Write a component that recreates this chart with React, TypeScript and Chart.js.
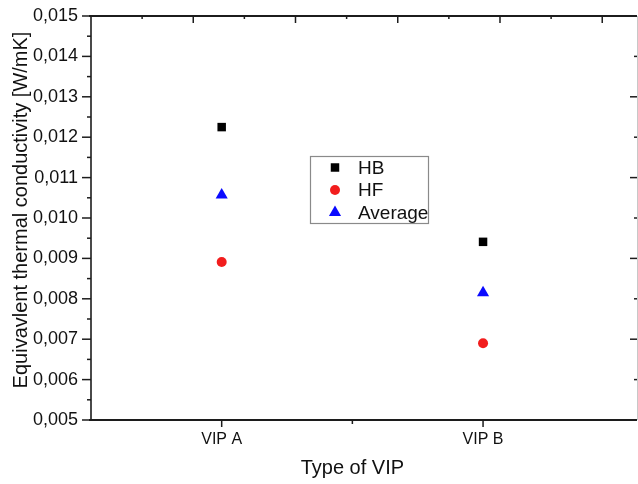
import { useEffect, useRef } from 'react';
import { Chart, registerables } from 'chart.js';
import { drawPoint } from 'chart.js/helpers';

Chart.register(...registerables);

const categories = ['VIP A', 'VIP B'];
const categoryPositions = [1, 2];
const hbValues = [0.01225, 0.00941];
const hfValues = [0.00891, 0.0069];
const averageValues = [0.01057, 0.00815];
const yTickValues = [0.005, 0.006, 0.007, 0.008, 0.009, 0.01, 0.011, 0.012, 0.013, 0.014, 0.015];
const topTickValues = [1, 2, 3, 4, 5, 6, 7, 8, 9, 10];
const xTitle = 'Type of VIP';
const yTitle = 'Equivavlent thermal conductivity [W/mK]';

const FONT = "'Liberation Sans', Arial, Helvetica, sans-serif";
const AXIS_COLOR = '#1c1c1c';

const seriesStyles = [
  { label: 'HB', values: hbValues, color: '#000000', pointStyle: 'rect', radius: 6 },
  { label: 'HF', values: hfValues, color: '#f21d1d', pointStyle: 'circle', radius: 5 },
  { label: 'Average', values: averageValues, color: '#0a0aff', pointStyle: 'triangle', radius: 7 },
];

const zeroPadding = (scale: any) => {
  scale.paddingTop = 0;
  scale.paddingBottom = 0;
  scale.paddingLeft = 0;
  scale.paddingRight = 0;
};

const framePlugin = {
  id: 'frame',
  beforeDatasetsDraw(chart: any) {
    const { ctx, chartArea, scales } = chart;
    const { left, right, top, bottom } = chartArea;
    const x = scales.x;
    const y = scales.y;
    const xt = scales.xTop;
    const seg = (x1: number, y1: number, x2: number, y2: number) => {
      ctx.beginPath();
      ctx.moveTo(x1, y1);
      ctx.lineTo(x2, y2);
      ctx.stroke();
    };
    ctx.save();
    // right border (light)
    ctx.strokeStyle = '#c8c8c8';
    ctx.lineWidth = 1;
    seg(right + 0.5, top, right + 0.5, bottom);
    // right inward ticks
    ctx.strokeStyle = AXIS_COLOR;
    ctx.lineWidth = 1.5;
    yTickValues.forEach((v, i) => {
      if (i === 0 || i === yTickValues.length - 1) return;
      const py = y.getPixelForValue(v);
      const len = i % 2 === 0 ? 7 : 3;
      seg(right, py, right - len, py);
    });
    // top axis
    ctx.lineWidth = 2;
    seg(left - 2, top, right, top);
    ctx.lineWidth = 1.5;
    topTickValues.forEach((v) => {
      const px = xt.getPixelForValue(v);
      const len = v % 2 === 0 ? 7 : 3;
      seg(px, top, px, top + len);
    });
    // bottom axis
    ctx.lineWidth = 2;
    seg(left - 2, bottom, right, bottom);
    ctx.lineWidth = 1.5;
    categoryPositions.forEach((v, i) => {
      const px = x.getPixelForValue(v);
      seg(px, bottom, px, bottom + 7);
      if (i < categoryPositions.length - 1) {
        const mx = x.getPixelForValue((v + categoryPositions[i + 1]) / 2);
        seg(mx, bottom, mx, bottom + 4);
      }
    });
    // left axis
    ctx.lineWidth = 1.6;
    seg(left, top, left, bottom);
    ctx.lineWidth = 1.5;
    yTickValues.forEach((v, i) => {
      const py = y.getPixelForValue(v);
      seg(left, py, left - 9, py);
      if (i < yTickValues.length - 1) {
        const my = y.getPixelForValue((v + yTickValues[i + 1]) / 2);
        seg(left, my, left - 4, my);
      }
    });
    // axis titles
    ctx.fillStyle = '#111';
    ctx.font = `20px ${FONT}`;
    ctx.textAlign = 'center';
    ctx.textBaseline = 'middle';
    const mid = x.getPixelForValue((categoryPositions[0] + categoryPositions[categoryPositions.length - 1]) / 2);
    ctx.fillText(xTitle, mid, 468);
    ctx.save();
    ctx.translate(21, (top + bottom) / 2 - 8);
    ctx.rotate(-Math.PI / 2);
    ctx.fillText(yTitle, 0, 0);
    ctx.restore();
    ctx.restore();
  },
  afterDraw(chart: any) {
    const { ctx } = chart;
    ctx.save();
    ctx.strokeStyle = '#8a8a8a';
    ctx.lineWidth = 1.2;
    ctx.strokeRect(310.5, 156.5, 118, 67);
    ctx.font = `19px ${FONT}`;
    ctx.textAlign = 'left';
    ctx.textBaseline = 'middle';
    seriesStyles.forEach((s, i) => {
      const cy = 167.5 + i * 22.5;
      ctx.fillStyle = s.color;
      drawPoint(ctx, { pointStyle: s.pointStyle as any, radius: s.radius, rotation: 0, borderWidth: 0 } as any, 335, cy);
      ctx.fillStyle = '#111';
      ctx.fillText(s.label, 358, cy + 1);
    });
    ctx.restore();
  },
};

export default function App() {
  const ref = useRef<HTMLCanvasElement | null>(null);
  useEffect(() => {
    document.body.style.margin = '0';
    if (!ref.current) return;
    const chart = new Chart(ref.current, {
      type: 'scatter',
      data: {
        datasets: seriesStyles.map((s) => ({
          label: s.label,
          data: s.values.map((v, i) => ({ x: categoryPositions[i], y: v })),
          pointStyle: s.pointStyle as any,
          pointRadius: s.radius,
          pointHoverRadius: s.radius,
          pointBackgroundColor: s.color,
          pointBorderWidth: 0,
          showLine: false,
        })),
      },
      options: {
        animation: false,
        responsive: false,
        layout: { autoPadding: false, padding: { top: 0, right: 1, bottom: 0, left: 0 } },
        plugins: { legend: { display: false }, tooltip: { enabled: false } },
        scales: {
          x: {
            type: 'linear',
            position: 'bottom',
            min: 0.5,
            max: 2.589,
            afterBuildTicks: (scale: any) => {
              scale.ticks = categoryPositions.map((v) => ({ value: v }));
            },
            afterFit: (scale: any) => {
              scale.height = 64;
              zeroPadding(scale);
            },
            ticks: {
              callback: (v: any) => categories[categoryPositions.indexOf(Number(v))] ?? '',
              font: { size: 16, family: FONT },
              color: '#111',
              padding: 10,
              maxRotation: 0,
              autoSkip: false,
            },
            grid: { display: false, drawTicks: false },
            border: { display: false },
          },
          xTop: {
            type: 'linear',
            position: 'top',
            min: 0,
            max: 10.68,
            afterFit: (scale: any) => {
              scale.height = 16;
              zeroPadding(scale);
            },
            ticks: { display: false },
            grid: { display: false, drawTicks: false },
            border: { display: false },
          },
          y: {
            type: 'linear',
            min: 0.005,
            max: 0.015,
            afterBuildTicks: (scale: any) => {
              scale.ticks = yTickValues.map((v) => ({ value: v }));
            },
            afterFit: (scale: any) => {
              scale.width = 91;
              zeroPadding(scale);
            },
            ticks: {
              callback: (v: any) => Number(v).toFixed(3).replace('.', ','),
              font: { size: 18, family: FONT },
              color: '#111',
              padding: 13,
              autoSkip: false,
            },
            grid: { display: false, drawTicks: false },
            border: { display: false },
          },
        },
      },
      plugins: [framePlugin],
    });
    return () => chart.destroy();
  }, []);
  return (
    <div style={{ width: 638, height: 484 }}>
      <canvas ref={ref} width={638} height={484} style={{ display: 'block' }} />
    </div>
  );
}
